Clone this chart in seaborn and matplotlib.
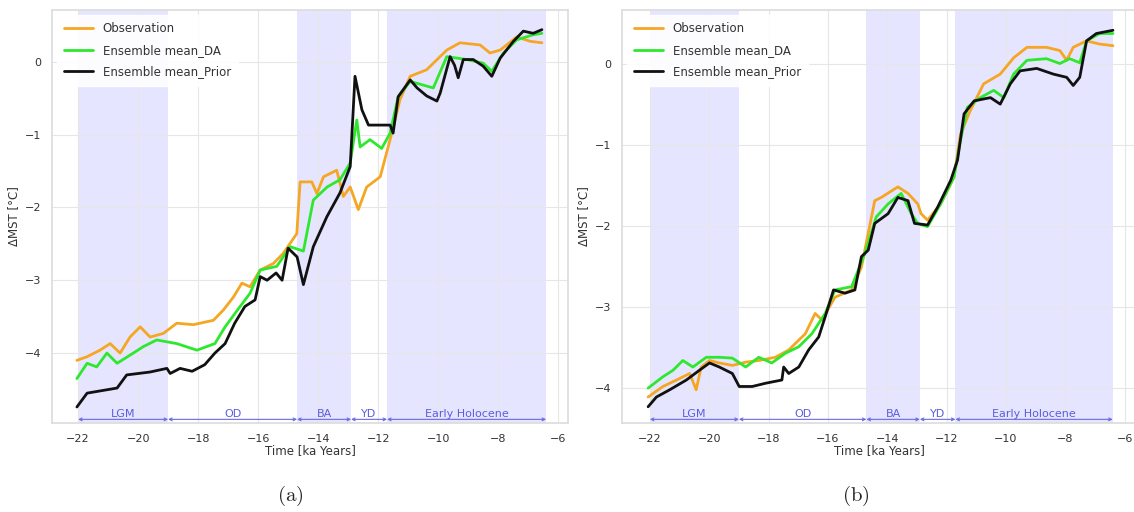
import numpy as np
import pandas as pd
import matplotlib
matplotlib.use("Agg")
import matplotlib.pyplot as plt
import seaborn as sns

# ---------------- data ----------------
# panel (a)
a_obs_x = [-22.04,-21.7,-21.27,-20.93,-20.6,-20.27,-19.93,-19.6,-19.16,-18.71,-18.16,-17.49,-17.16,-16.82,-16.54,-16.27,-15.93,-15.49,-15.16,-14.71,-14.6,-14.21,-14.04,-13.82,-13.38,-13.16,-12.93,-12.66,-12.38,-11.93,-11.6,-11.27,-10.93,-10.38,-9.71,-9.27,-8.6,-8.27,-7.93,-7.38,-6.93,-6.54]
a_obs_y = [-4.1,-4.05,-3.96,-3.87,-4.0,-3.78,-3.64,-3.78,-3.73,-3.59,-3.61,-3.55,-3.41,-3.23,-3.04,-3.09,-2.86,-2.77,-2.63,-2.36,-1.65,-1.65,-1.81,-1.58,-1.49,-1.85,-1.72,-2.03,-1.72,-1.58,-1.07,-0.52,-0.2,-0.11,0.16,0.26,0.23,0.12,0.16,0.34,0.28,0.26]

a_da_x = [-22.04,-21.7,-21.38,-21.04,-20.7,-20.16,-19.82,-19.38,-18.71,-18.04,-17.44,-17.1,-16.6,-16.27,-15.93,-15.38,-14.93,-14.49,-14.16,-13.7,-13.27,-12.93,-12.71,-12.6,-12.27,-11.88,-11.6,-11.33,-10.93,-10.16,-9.71,-9.04,-8.5,-8.21,-7.82,-7.38,-6.83,-6.54]
a_da_y = [-4.35,-4.14,-4.19,-4.0,-4.14,-4.0,-3.91,-3.82,-3.87,-3.96,-3.87,-3.64,-3.36,-3.18,-2.86,-2.81,-2.54,-2.6,-1.9,-1.72,-1.62,-1.39,-0.8,-1.17,-1.07,-1.19,-0.98,-0.48,-0.27,-0.36,0.07,0.03,-0.02,-0.13,0.12,0.3,0.37,0.39]

a_prior_x = [-22.04,-21.7,-20.7,-20.38,-19.6,-19.04,-18.93,-18.6,-18.2,-17.78,-17.44,-17.1,-16.78,-16.44,-16.1,-15.93,-15.7,-15.4,-15.2,-15.0,-14.7,-14.49,-14.16,-13.71,-13.27,-12.93,-12.77,-12.54,-12.32,-11.6,-11.5,-11.33,-10.93,-10.7,-10.38,-10.04,-9.93,-9.6,-9.45,-9.33,-9.16,-8.83,-8.5,-8.21,-7.93,-7.49,-7.16,-6.83,-6.54]
a_prior_y = [-4.74,-4.55,-4.48,-4.30,-4.26,-4.21,-4.28,-4.21,-4.25,-4.16,-4.0,-3.87,-3.59,-3.36,-3.27,-2.95,-3.0,-2.9,-3.0,-2.56,-2.68,-3.06,-2.54,-2.13,-1.8,-1.44,-0.2,-0.66,-0.87,-0.87,-0.98,-0.48,-0.25,-0.36,-0.47,-0.54,-0.43,0.07,-0.05,-0.22,0.03,0.03,-0.06,-0.2,0.05,0.28,0.42,0.39,0.44]

# panel (b)
b_obs_x = [-22.06,-21.56,-21.1,-20.66,-20.44,-20.27,-19.99,-19.66,-19.22,-18.77,-18.33,-17.77,-17.32,-16.76,-16.43,-16.2,-15.76,-15.2,-14.87,-14.42,-14.2,-13.64,-13.3,-12.97,-12.86,-12.64,-12.2,-11.75,-11.53,-11.2,-10.75,-10.19,-9.74,-9.29,-8.63,-8.18,-7.95,-7.73,-7.28,-6.84,-6.39]
b_obs_y = [-4.11,-3.98,-3.9,-3.82,-4.02,-3.74,-3.66,-3.69,-3.72,-3.68,-3.66,-3.62,-3.53,-3.33,-3.08,-3.16,-2.88,-2.79,-2.51,-1.69,-1.65,-1.52,-1.6,-1.73,-1.85,-1.93,-1.73,-1.4,-0.87,-0.58,-0.25,-0.13,0.07,0.2,0.2,0.16,0.04,0.2,0.28,0.24,0.22]

b_da_x = [-22.06,-21.56,-21.22,-20.89,-20.55,-20.1,-19.66,-19.22,-18.77,-18.33,-17.89,-17.43,-16.98,-16.54,-16.09,-15.76,-15.2,-14.75,-14.37,-13.97,-13.53,-13.19,-12.97,-12.64,-12.2,-11.75,-11.53,-11.3,-10.86,-10.41,-10.07,-9.74,-9.29,-8.63,-8.18,-7.85,-7.51,-7.28,-6.84,-6.39]
b_da_y = [-4.0,-3.86,-3.78,-3.66,-3.74,-3.62,-3.62,-3.63,-3.74,-3.62,-3.69,-3.57,-3.49,-3.33,-3.08,-2.79,-2.75,-2.34,-1.89,-1.73,-1.6,-1.85,-1.97,-2.01,-1.73,-1.4,-0.95,-0.54,-0.42,-0.33,-0.42,-0.13,0.04,0.06,0.0,0.06,0.01,0.28,0.37,0.37]

b_prior_x = [-22.06,-21.78,-21.33,-20.77,-20.33,-19.99,-19.66,-19.22,-18.99,-18.55,-18.1,-17.55,-17.49,-17.32,-16.98,-16.65,-16.31,-16.09,-15.81,-15.42,-15.09,-14.87,-14.64,-14.42,-13.97,-13.64,-13.3,-13.08,-12.64,-12.3,-11.86,-11.63,-11.41,-11.07,-10.52,-10.19,-9.85,-9.52,-8.96,-8.4,-7.95,-7.73,-7.51,-7.28,-6.95,-6.39]
b_prior_y = [-4.23,-4.11,-4.02,-3.9,-3.78,-3.69,-3.74,-3.82,-3.98,-3.98,-3.94,-3.9,-3.74,-3.82,-3.74,-3.53,-3.37,-3.12,-2.79,-2.83,-2.79,-2.38,-2.3,-1.97,-1.85,-1.65,-1.69,-1.97,-1.99,-1.77,-1.44,-1.19,-0.62,-0.46,-0.42,-0.5,-0.25,-0.09,-0.06,-0.13,-0.17,-0.27,-0.17,0.28,0.37,0.41]

series_labels = ["Observation", "Ensemble mean_DA", "Ensemble mean_Prior"]
series_colors = ["#f5a623", "#2ee82e", "#111111"]

period_names = ["LGM", "OD", "BA", "YD", "Early Holocene"]
period_start = [-22.0, -19.0, -14.7, -12.9, -11.7]
period_end = [-19.0, -14.7, -12.9, -11.7, -6.4]
period_shaded = [True, False, True, False, True]

xticks = [-22, -20, -18, -16, -14, -12, -10, -8, -6]

# ---------------- figure ----------------
sns.set_theme(style="whitegrid")
plt.rcParams["font.family"] = ["DejaVu Sans"]
plt.rcParams["mathtext.fontset"] = "cm"

W, H = 1134, 512
fig = plt.figure(figsize=(W / 100, H / 100), dpi=100)


def px_axes(l, r, t, b):
    return fig.add_axes([l / W, 1 - b / H, (r - l) / W, (b - t) / H])


panels = [
    dict(ax=px_axes(52, 568, 10, 423), xlim=(-22.87, -5.67), ylim=(-4.96, 0.71),
         arr_y=-4.91, txt_y=-4.905,
         data=[(a_obs_x, a_obs_y), (a_da_x, a_da_y), (a_prior_x, a_prior_y)]),
    dict(ax=px_axes(622, 1137, 10, 423), xlim=(-22.94, -5.58), ylim=(-4.43, 0.66),
         arr_y=-4.385, txt_y=-4.38,
         data=[(b_obs_x, b_obs_y), (b_da_x, b_da_y), (b_prior_x, b_prior_y)]),
]

for p in panels:
    ax = p["ax"]
    for s, e, sh in zip(period_start, period_end, period_shaded):
        if sh:
            ax.axvspan(s, e, color="blue", alpha=0.1, lw=0, zorder=0)
    for (xs, ys), lab, col in zip(p["data"], series_labels, series_colors):
        df = pd.DataFrame({"t": xs, "v": ys})
        sns.lineplot(data=df, x="t", y="v", ax=ax, color=col, label=lab, lw=2.0)
    for s, e, name in zip(period_start, period_end, period_names):
        ax.annotate("", xy=(s, p["arr_y"]), xytext=(e, p["arr_y"]),
                    arrowprops=dict(arrowstyle="<->", color="#6a6ae6", lw=0.8,
                                    shrinkA=0, shrinkB=0, mutation_scale=5))
        ax.text((s + e) / 2, p["txt_y"], name, ha="center", va="bottom",
                color="#5c5ce0", fontsize=8)
    ax.set_xlim(*p["xlim"])
    ax.set_ylim(*p["ylim"])
    ax.set_xticks(xticks)
    ax.set_yticks([-4, -3, -2, -1, 0])
    ax.tick_params(labelsize=8, colors="#333333", pad=2)
    ax.set_xlabel("Time [ka Years]", fontsize=8.5, color="#333333", labelpad=0)
    ax.set_ylabel("ΔMST [°C]", fontsize=8.5, color="#333333", labelpad=3)
    ax.grid(color="#e6e6e6", lw=0.8)
    for sp in ax.spines.values():
        sp.set_color("#dddddd")
    leg = ax.legend(loc="upper left", fontsize=8.5, frameon=True, facecolor="white",
                    edgecolor="white", framealpha=0.9, borderaxespad=0.4,
                    borderpad=0.6, handlelength=2.5, labelspacing=0.75)
    for t in leg.get_texts():
        t.set_color("#333333")

fig.text(290 / W, 1 - 496 / H, r"$\mathrm{(a)}$", fontsize=15, ha="center", va="center")
fig.text(856 / W, 1 - 496 / H, r"$\mathrm{(b)}$", fontsize=15, ha="center", va="center")

fig.savefig("out.png", dpi=100)
